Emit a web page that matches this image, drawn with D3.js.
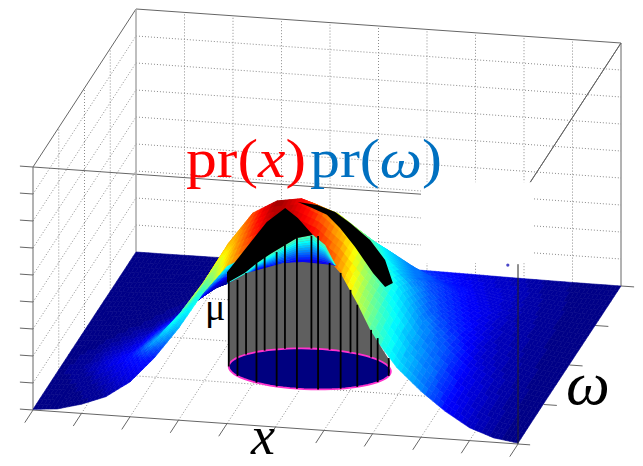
<!DOCTYPE html>
<html>
<head>
<meta charset="utf-8">
<script src="https://d3js.org/d3.v7.min.js"></script>
<style>
body { margin: 0; background: white; }
svg { display: block; }
</style>
</head>
<body>
<svg id="chart"></svg>
<script>
// height profiles, 21 samples along x, 9 along w
const profileX = [0.004, 0.015, 0.05, 0.1, 0.19, 0.33, 0.5, 0.7, 0.86, 0.93, 0.95, 0.9, 0.8, 0.66, 0.54, 0.37, 0.25, 0.15, 0.07, 0.024, 0.005];
const profileW = [0.85, 0.9, 0.92, 0.8, 0.63, 0.47, 0.25, 0.08, 0.01];
const zPeak = 8;

// colour index on the surface: along x at the front, fall off along w, left part leans inwards
const colourX = [0, 0.005, 0.01, 0.03, 0.09, 0.14, 0.3, 0.42, 0.67, 0.84, 1.0, 0.97, 0.83, 0.62, 0.46, 0.34, 0.25, 0.13, 0.07, 0.025, 0];
const colourRightW = [1.0, 0.9, 0.78, 0.6, 0.48, 0.4, 0.33, 0.27, 0.2];
const colourLeftW = [1.0, 1.0, 1.0, 0.6, 0.2, 0.12, 0.08, 0.05, 0.03];
const colourLeftShift = [0, 0.5, 1.0, 1.0, 0.8, 0.5, 0.2, 0, 0];

const xTicks = d3.range(0, 11);
const wTicks = d3.range(0, 5);
const zTicks = d3.range(0, 10);

// disc on the floor, angles in degrees around it
const discCentre = [4.93, 1.464];
const discRadius = [1.65, 0.5];
const lineAngle = [189, 216, 151, 238, 133, 255, 117, 270, 98, 285, 85, 301.5, 69, 315, 50, 336, 356];
const lineTop = [3.2, 3.56, 3.02, 4.43, 3.51, 4.98, 3.85, 5.58, 4.17, 5.68, 3.21, 4.29, 2.32, 3.04, 1.02, 1.63, 0.66];
const wallAngle = [189, 150, 118.5, 104, 82.5, 77, 63.5, 51, 18];
const wallTop = [3.09, 3.01, 3.18, 3.2, 3.15, 2.89, 1.88, 1.01, 0.27];

// dark patches, x and z read on the w = 0 plane
const patchLeftX = [4.0, 4.0, 4.41, 4.82, 5.2, 5.46, 5.77, 5.44, 4.95, 4.62, 4.37];
const patchLeftZ = [5.21, 5.61, 6.59, 7.57, 8.14, 7.8, 7.21, 7.06, 6.47, 6.03, 5.63];
const patchRightX = [5.46, 5.86, 6.23, 6.54, 6.95, 7.26, 7.42, 7.26, 7.01, 6.64, 6.33, 6.06, 5.71];
const patchRightZ = [8.39, 8.33, 8.12, 7.75, 7.17, 6.47, 5.64, 5.47, 5.96, 6.87, 7.54, 7.99, 8.24];

// cool band between the wall and the left patch
const arcX = [4.0, 4.37, 4.62, 4.95, 5.44, 5.77, 6.02, 6.23];
const arcLow = [5.21, 5.48, 5.77, 5.92, 6.09, 6.13, 6.13, 6.15];
const arcHigh = [5.21, 5.63, 6.03, 6.47, 7.06, 7.21, 6.87, 6.15];

// stray blue speck near the right edge line
const speck = [9.79, 0, 6.6];

const width = 643, height = 466;
const svg = d3.select("#chart").attr("width", width).attr("height", height);

const xScale = d3.scaleLinear().domain([0, 10]).range([33, 518]);
const xRise = d3.scaleLinear().domain([0, 10]).range([0, 34]);
const wRun = d3.scaleLinear().domain([0, 4]).range([0, 103]);
const wRise = d3.scaleLinear().domain([0, 4]).range([0, -158]);
const zScale = d3.scaleLinear().domain([0, 9]).range([0, -243]);

function project(x, w, z) {
	return [xScale(x) + wRun(w), 410 + xRise(x) + wRise(w) + zScale(z)];
}

function jet(t) {
	const r = Math.min(4 * t - 1.5, -4 * t + 4.5);
	const g = Math.min(4 * t - 0.5, -4 * t + 3.5);
	const b = Math.min(4 * t + 0.5, -4 * t + 2.5);
	const c = v => Math.round(255 * Math.max(0, Math.min(1, v)));
	return "rgb(" + c(r) + "," + c(g) + "," + c(b) + ")";
}
// 64 level colormap, the picture shows the bands
const levels = d3.scaleQuantize().domain([0, 1]).range(d3.range(64).map(i => jet((i + 0.5) / 64)));

const line = d3.line();
const pathOf = pts => line(pts) + "Z";

function lerpArr(arr, i) {
	const a = Math.max(0, Math.min(arr.length - 1, Math.floor(i))), b = Math.min(arr.length - 1, a + 1);
	return arr[a] + (arr[b] - arr[a]) * (i - a);
}

// walls and floor
const grid = svg.append("g").attr("fill", "none").attr("stroke", "#8c8c8c").attr("stroke-width", 1).attr("stroke-dasharray", "1 2");
function seg(g, a, b) {
	g.append("path").attr("d", line([project(...a), project(...b)]));
}
xTicks.slice(1, -1).forEach(x => {
	seg(grid, [x, 4, 0], [x, 4, 9]);
	seg(grid, [x, 0, 0], [x, 4, 0]);
});
wTicks.slice(1, -1).forEach(w => {
	seg(grid, [0, w, 0], [0, w, 9]);
	seg(grid, [0, w, 0], [10, w, 0]);
});
zTicks.slice(1, -1).forEach(z => {
	seg(grid, [0, 4, z], [10, 4, z]);
	seg(grid, [0, 0, z], [0, 4, z]);
});

// box lines
const box = svg.append("g").attr("fill", "none").attr("stroke", "#666").attr("stroke-width", 1);
[[[0, 4, 9], [10, 4, 9]], [[0, 0, 9], [0, 4, 9]], [[0, 0, 9], [8, 0, 9]], [[10, 0, 9], [10, 4, 9]],
 [[10, 4, 0], [10, 4, 9]], [[0, 0, 0], [0, 0, 9]], [[0, 0, 0], [10, 0, 0]]].forEach(d => seg(box, d[0], d[1]));
seg(box.append("g").attr("stroke", "#aaa").attr("stroke-width", 1.5), [0, 4, 0], [0, 4, 9]);

// erased part of the back wall, the label used to sit there
const wipeA = project(8, 0, 9);
svg.append("rect").attr("x", wipeA[0]).attr("y", wipeA[1] - 12).attr("width", 112).attr("height", 81).attr("fill", "white");
seg(box, [10, 0.17, 9], [10, 4, 9]);

// ticks
const ticks = svg.append("g").attr("fill", "none").attr("stroke", "#666").attr("stroke-width", 1);
xTicks.forEach(x => seg(ticks, [x, 0, 0], [x, -0.32, 0]));
zTicks.forEach(z => seg(ticks, [0, 0, z], [-0.27, 0, z]));
wTicks.slice(1).forEach(w => seg(ticks, [10, w, 0], [10.27, w, 0]));
seg(ticks, [10, 0, 0], [10.25, 0, 0]);

// surface, back to front, each mesh cell split up for the colour
const subX = 6, subW = 4, cells = [];
for (let j = (profileW.length - 1) * subW - 1; j >= 0; j--) {
	for (let i = 0; i < (profileX.length - 1) * subX; i++) {
		cells.push([i, j]);
	}
}
const xAt = i => i / subX / 2;
const wAt = j => j / subW / 2;
const heightAt = (i, j) => zPeak * lerpArr(profileX, i / subX) * lerpArr(profileW, j / subW);
const vertex = (i, j) => project(xAt(i), wAt(j), heightAt(i, j));

function colourAt(i, j) {
	const ix = (i + 0.5) / subX, iw = (j + 0.5) / subW;
	// the far fall off only shows on the low left side
	const near = Math.max(0, Math.min(1, (ix - 5.6) / 2));
	const shifted = Math.min(10, ix + 2 * lerpArr(colourLeftShift, iw) * (1 - 0.6 * near));
	const fall = lerpArr(colourLeftW, iw);
	const left = lerpArr(colourX, shifted) * (fall + (1 - fall) * near);
	const right = lerpArr(colourX, ix) * lerpArr(colourRightW, iw);
	const k = Math.max(0, Math.min(1, (ix - 9) / 2));
	return levels(left + (right - left) * k);
}

svg.append("g").selectAll("path")
	.data(cells)
	.join("path")
	.attr("d", d => pathOf([vertex(d[0], d[1]), vertex(d[0] + 1, d[1]), vertex(d[0] + 1, d[1] + 1), vertex(d[0], d[1] + 1)]))
	.attr("fill", d => colourAt(d[0], d[1]))
	.attr("stroke", d => colourAt(d[0], d[1]))
	.attr("stroke-width", 0.6);

// cool band
const bandSteps = d3.range(12);
svg.append("g").selectAll("path")
	.data(bandSteps)
	.join("path")
	.attr("d", s => {
		const mix = (a, b, k) => a + (b - a) * k;
		const up = arcX.map((x, i) => project(x, 0, mix(arcLow[i], arcHigh[i], (s + 1) / 12)));
		const down = arcX.map((x, i) => project(x, 0, mix(arcLow[i], arcHigh[i], s / 12))).reverse();
		return pathOf(up.concat(down));
	})
	.attr("fill", s => jet(0.1 + 0.34 * s / 11))
	.attr("stroke", s => jet(0.1 + 0.34 * s / 11))
	.attr("stroke-width", 0.4);

// disc and wall
function discPoint(deg) {
	const r = deg * Math.PI / 180;
	return [discCentre[0] + discRadius[0] * Math.cos(r), discCentre[1] + discRadius[1] * Math.sin(r)];
}
const wallPts = wallAngle.map((a, i) => {
	const p = discPoint(a);
	return project(p[0], p[1], wallTop[i]);
});
const discAngles = d3.range(0, 360, 5);
const lowerArc = d3.range(18, -171 - 1, -5).map(a => {
	const p = discPoint(a);
	return project(p[0], p[1], 0);
});
svg.append("path").attr("d", pathOf(wallPts.concat(lowerArc))).attr("fill", "#5f5f5f");
svg.append("path")
	.attr("d", pathOf(discAngles.map(a => {
		const p = discPoint(a);
		return project(p[0], p[1], 0);
	})))
	.attr("fill", "#000080")
	.attr("stroke", "#ff33cc")
	.attr("stroke-width", 1.8);

// dark patches
svg.append("path").attr("d", pathOf(patchLeftX.map((x, i) => project(x, 0, patchLeftZ[i])))).attr("fill", "black");
svg.append("path").attr("d", pathOf(patchRightX.map((x, i) => project(x, 0, patchRightZ[i])))).attr("fill", "black");

// black lines up the wall
svg.append("g").selectAll("path")
	.data(lineAngle)
	.join("path")
	.attr("d", (a, i) => {
		const p = discPoint(a);
		return line([project(p[0], p[1], 0), project(p[0], p[1], lineTop[i])]);
	})
	.attr("stroke", "black")
	.attr("stroke-width", 1.8)
	.attr("fill", "none");

// front right edge line over the surface
seg(svg.append("g").attr("stroke", "#222").attr("fill", "none"), [10, 0, 0], [10, 0, 6.66]);

const speckAt = project(...speck);
svg.append("circle").attr("cx", speckAt[0]).attr("cy", speckAt[1]).attr("r", 1.6).attr("fill", "#4a46c8");

// labels
const serif = "'Liberation Serif', serif";
const title = svg.append("g").attr("font-family", serif).attr("font-size", 55);
const red = title.append("text").attr("x", 186).attr("y", 177).attr("fill", "#ff0000").attr("textLength", 120).attr("lengthAdjust", "spacingAndGlyphs");
red.append("tspan").text("pr(");
red.append("tspan").attr("font-style", "italic").text("x");
red.append("tspan").text(")");
const blue = title.append("text").attr("x", 310).attr("y", 177).attr("fill", "#0070c0").attr("textLength", 132).attr("lengthAdjust", "spacingAndGlyphs");
blue.append("tspan").text("pr(");
blue.append("tspan").attr("font-style", "italic").text("ω");
blue.append("tspan").text(")");

svg.append("text").attr("x", 251).attr("y", 454).attr("font-family", serif).attr("font-style", "italic").attr("font-size", 54).attr("fill", "black").text("x");
svg.append("text").attr("x", 566).attr("y", 404).attr("font-family", serif).attr("font-style", "italic").attr("font-size", 62).attr("fill", "black").text("ω");
svg.append("text").attr("x", 205).attr("y", 320).attr("font-family", serif).attr("font-size", 38).attr("fill", "black").text("μ");
</script>
</body>
</html>
